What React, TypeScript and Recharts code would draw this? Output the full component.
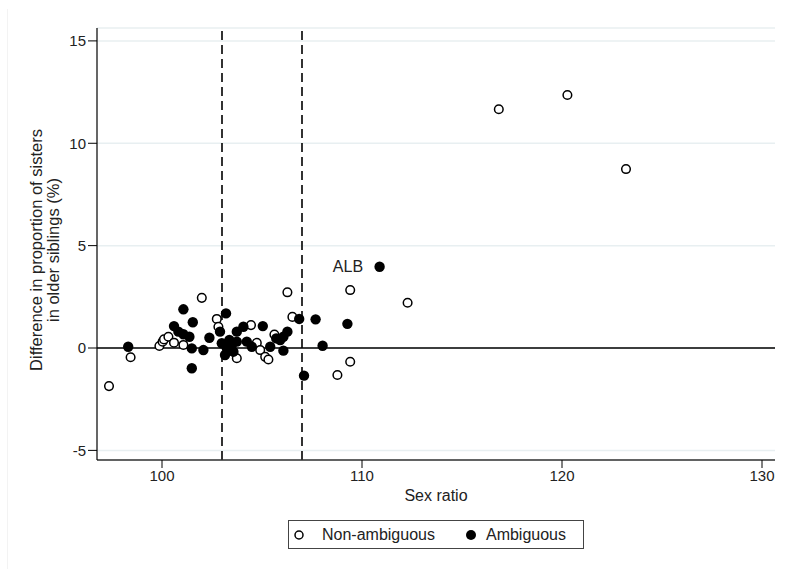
import React from 'react';
import { ScatterChart, Scatter, XAxis, YAxis, CartesianGrid, ReferenceLine, LabelList } from 'recharts';

const nonAmbX = [97.35, 98.43, 99.87, 100.03, 100.1, 100.32, 100.6, 101.07, 101.99, 102.74, 102.82, 103.74, 104.45, 104.74, 104.91, 105.16, 105.32, 105.62, 106.27, 106.52, 108.77, 109.41, 109.41, 112.28, 116.84, 120.27, 123.2];
const nonAmbY = [-1.86, -0.45, 0.1, 0.31, 0.42, 0.55, 0.26, 0.15, 2.45, 1.42, 1.04, -0.5, 1.12, 0.25, -0.1, -0.43, -0.56, 0.66, 2.72, 1.52, -1.32, -0.67, 2.83, 2.21, 11.66, 12.36, 8.74];

const ambX = [98.31, 100.6, 100.82, 101.07, 101.07, 101.37, 101.54, 101.49, 101.49, 102.07, 102.37, 102.9, 103.2, 102.99, 103.24, 103.15, 103.49, 103.57, 103.74, 103.37, 103.74, 104.07, 105.04, 104.24, 104.49, 105.41, 105.71, 105.91, 106.07, 106.27, 106.07, 106.86, 107.68, 108.03, 107.1, 109.27, 110.88];
const ambY = [0.06, 1.07, 0.8, 1.89, 0.67, 0.55, 1.26, -0.02, -0.99, -0.1, 0.5, 0.8, 1.69, 0.23, -0.01, -0.34, 0.15, -0.18, 0.31, 0.39, 0.8, 1.04, 1.07, 0.31, 0.06, 0.06, 0.47, 0.39, 0.55, 0.8, -0.13, 1.42, 1.4, 0.11, -1.35, 1.18, 3.97];
const ambLabels: Record<number, string> = { 36: 'ALB' };

const xTicks = [100, 110, 120, 130];
const yTicks = [-5, 0, 5, 10, 15];
const cutoffs = [103, 107];

const nonAmbData = nonAmbX.map((x, i) => ({ x, y: nonAmbY[i] }));
const ambData = ambX.map((x, i) => ({ x, y: ambY[i], label: ambLabels[i] || '' }));

const FONT = 'Arial, "Liberation Sans", Helvetica, sans-serif';

const Hollow = (p: any) => (
  <circle cx={p.cx} cy={p.cy} r={4.3} fill="#fff" stroke="#000" strokeWidth={1.5} />
);
const Filled = (p: any) => <circle cx={p.cx} cy={p.cy} r={5.2} fill="#000" />;

export default function App() {
  return (
    <div style={{ position: 'absolute', left: 0, top: 0, width: 786, height: 574, background: '#fff', fontFamily: FONT }}>
      <div style={{ position: 'absolute', left: 7, top: 9, width: 1, height: 560, background: '#f3f3f3' }} />
      <ScatterChart width={786} height={574} margin={{ top: 28, right: 11, bottom: 74, left: 0 }}>
        <CartesianGrid horizontal={true} vertical={false} stroke="#e8eff1" strokeWidth={1.5} />
        <XAxis
          type="number"
          dataKey="x"
          domain={[96.75, 130.65]}
          ticks={xTicks}
          allowDataOverflow
          height={40}
          stroke="#000"
          tickSize={8}
          tick={{ fill: '#222', fontSize: 15, fontFamily: FONT }}
          tickLine={{ stroke: '#000' }}
          axisLine={{ stroke: '#333', strokeWidth: 1.5 }}
        />
        <YAxis
          type="number"
          dataKey="y"
          domain={[-5.47, 15.63]}
          ticks={yTicks}
          allowDataOverflow
          width={97}
          stroke="#000"
          tickSize={9}
          tick={{ fill: '#222', fontSize: 15, fontFamily: FONT }}
          tickLine={{ stroke: '#000' }}
          axisLine={{ stroke: '#000', strokeWidth: 1.2 }}
        />
        <ReferenceLine y={0} stroke="#000" strokeWidth={1.5} />
        {cutoffs.map((c) => (
          <ReferenceLine key={c} x={c} stroke="#000" strokeWidth={1.6} strokeDasharray="9 5" />
        ))}
        <Scatter data={nonAmbData} shape={Hollow} isAnimationActive={false} />
        <Scatter data={ambData} shape={Filled} isAnimationActive={false}>
          <LabelList dataKey="label" position="left" offset={12} fill="#222" fontSize={16} fontFamily={FONT} />
        </Scatter>
      </ScatterChart>
      <div style={{ position: 'absolute', left: 0, width: 872, top: 486, textAlign: 'center', fontSize: 16, color: '#222', lineHeight: '19px' }}>
        Sex ratio
      </div>
      <div
        style={{
          position: 'absolute',
          left: 45,
          top: 250,
          transform: 'translate(-50%, -50%) rotate(-90deg)',
          whiteSpace: 'nowrap',
          textAlign: 'center',
          fontSize: 16.5,
          lineHeight: '17px',
          color: '#222',
        }}
      >
        Difference in proportion of sisters
        <br />
        in older siblings (%)
      </div>
      <div
        style={{
          position: 'absolute',
          left: 288,
          top: 520,
          width: 296,
          height: 29,
          border: '1px solid #444',
          boxSizing: 'border-box',
          display: 'flex',
          alignItems: 'center',
          fontSize: 16,
          color: '#222',
          whiteSpace: 'nowrap',
        }}
      >
        <svg width={12} height={12} style={{ marginLeft: 4, flexShrink: 0 }}>
          <circle cx={6} cy={6} r={4} fill="#fff" stroke="#000" strokeWidth={1.5} />
        </svg>
        <span style={{ marginLeft: 17, flexShrink: 0 }}>Non-ambiguous</span>
        <svg width={12} height={12} style={{ marginLeft: 30, flexShrink: 0 }}>
          <circle cx={6} cy={6} r={5} fill="#000" />
        </svg>
        <span style={{ marginLeft: 9, flexShrink: 0 }}>Ambiguous</span>
      </div>
    </div>
  );
}
